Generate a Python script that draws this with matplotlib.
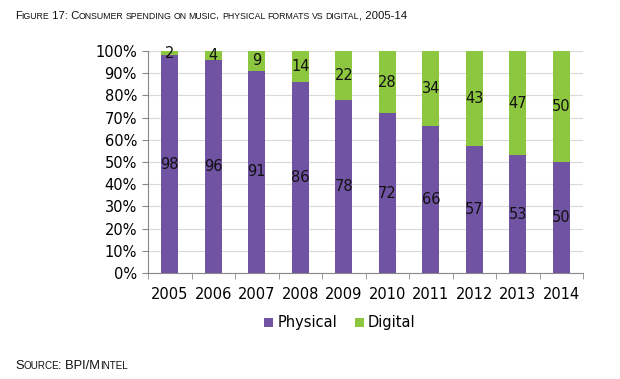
import matplotlib
matplotlib.use("Agg")
import matplotlib.pyplot as plt
import numpy as np

years = ["2005", "2006", "2007", "2008", "2009", "2010", "2011", "2012", "2013", "2014"]
physical = [98, 96, 91, 86, 78, 72, 66, 57, 53, 50]
digital = [2, 4, 9, 14, 22, 28, 34, 43, 47, 50]
yticks = [0, 10, 20, 30, 40, 50, 60, 70, 80, 90, 100]

c_phys = "#7153A3"
c_dig = "#8DC63F"

fig = plt.figure(figsize=(6.2, 3.79), dpi=100)
ax = fig.add_axes([148/620, 1-273/379, 435/620, 222/379])
x = np.arange(len(years))
w = 0.40
b1 = ax.bar(x, physical, w, color=c_phys, label="Physical", zorder=3)
b2 = ax.bar(x, digital, w, bottom=physical, color=c_dig, label="Digital", zorder=3)
for i in range(len(years)):
    ax.text(x[i], physical[i]/2, str(physical[i]), ha="center", va="center", fontsize=10.5, color="#111111", zorder=4)
    ax.text(x[i], physical[i] + digital[i]/2, str(digital[i]), ha="center", va="center", fontsize=10.5, color="#111111", zorder=4)

ax.set_xlim(-0.5, len(years)-0.5)
ax.set_ylim(0, 100)
ax.set_yticks(yticks)
ax.set_yticklabels([f"{t}%" for t in yticks], fontsize=10.5)
ax.yaxis.grid(True, color="#D9D9D9", linewidth=0.8, zorder=0)
ax.set_xticks(x)
ax.set_xticklabels(years, fontsize=10.5)
ax.set_xticks(np.arange(-0.5, len(years), 1), minor=True)
ax.tick_params(axis="x", which="major", length=0, pad=10)
ax.tick_params(axis="x", which="minor", length=4, color="#888888")
ax.tick_params(axis="y", length=4, color="#888888", pad=4)
for s in ["top", "right"]:
    ax.spines[s].set_visible(False)
ax.spines["left"].set_color("#888888")
ax.spines["bottom"].set_color("#888888")

fig.legend(handles=[b1, b2], labels=["Physical", "Digital"], loc="center",
           bbox_to_anchor=(340/620, 1-323/379), ncol=2, frameon=False,
           fontsize=10.5, handlelength=0.6, handleheight=0.6, handletextpad=0.3, columnspacing=1.2)

def small_caps(fig, x0, y0, text, big=9.5, small=7.3, family="Liberation Sans"):
    renderer = fig.canvas.get_renderer()
    xp = x0
    runs = []
    for ch in text:
        is_low = ch.islower()
        if runs and runs[-1][0] == is_low:
            runs[-1][1] += ch
        else:
            runs.append([is_low, ch])
    for is_low, s in runs:
        t = fig.text(xp, y0, s.upper() if is_low else s, fontsize=small if is_low else big,
                     family=family, ha="left", va="baseline", color="#111111")
        bb = t.get_window_extent(renderer)
        xp = xp + (bb.width - 0.5) / fig.bbox.width

small_caps(fig, 15/620, 1-19/379, "Figure 17: Consumer spending on music, physical formats vs digital, 2005-14",
           big=8.2, small=6.3)
small_caps(fig, 15/620, 1-369/379, "Source: BPI/Mintel", big=9.3, small=7.1)

fig.savefig("out.png", dpi=100)
